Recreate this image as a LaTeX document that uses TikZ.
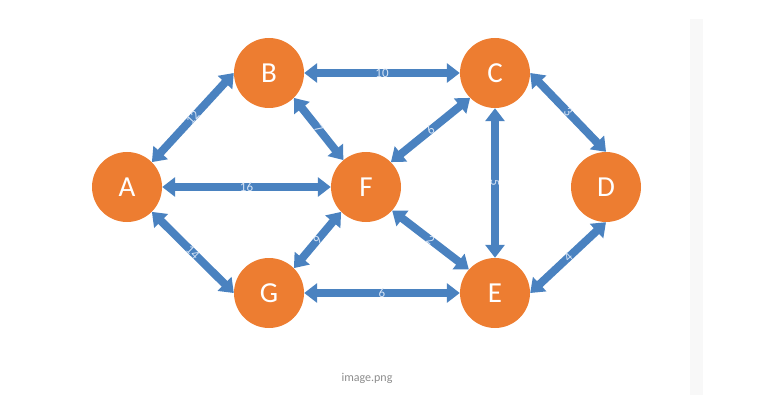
\documentclass[tikz,border=0pt]{standalone}
\usepackage{fontspec}
\setmainfont{Carlito}
\usetikzlibrary{arrows.meta}
\definecolor{nodeorange}{RGB}{237,125,49}
\definecolor{edgeblue}{RGB}{74,130,192}
\definecolor{lbl}{RGB}{215,228,245}
\definecolor{capgray}{RGB}{140,140,140}
\definecolor{strip}{RGB}{248,248,248}
\tikzset{
  vertex/.style={circle, fill=nodeorange, minimum size=70pt, inner sep=0pt,
    text=white, font=\fontsize{29}{29}\selectfont},
  link/.style={draw=edgeblue, line width=8pt,
    {Triangle[width=19pt,length=13pt]}-{Triangle[width=19pt,length=13pt]}},
  wt/.style={midway, sloped, text=lbl, inner sep=0pt, font=\fontsize{13}{13}\selectfont},
}
\begin{document}
\begin{tikzpicture}[x=1pt,y=-1pt]
\useasboundingbox (0,0) rectangle (783,406);
\fill[strip] (690,19) rectangle (703,395);
\node[vertex] (A) at (127,187) {A};
\node[vertex] (B) at (269,73) {B};
\node[vertex] (C) at (495,73) {C};
\node[vertex] (F) at (366,187) {F};
\node[vertex] (D) at (606,187) {D};
\node[vertex] (G) at (269,293) {G};
\node[vertex] (E) at (495,293) {E};
\draw[link] (A.45) -- (B.west) node[wt] {12};
\draw[link] (B.east) -- (C.west) node[wt] {10};
\draw[link] (B.-45) -- (F.130) node[wt] {7};
\draw[link] (A.east) -- (F.west) node[wt] {16};
\draw[link] (F.45) -- (C.225) node[wt] {6};
\draw[link] (C.east) -- (D.north) node[wt] {3};
\draw[link] (C.south) -- (E.north) node[midway, rotate=-90, text=lbl, inner sep=0pt, font=\fontsize{13}{13}\selectfont] {5};
\draw[link] (A.-45) -- (G.west) node[wt] {14};
\draw[link] (G.45) -- (F.225) node[wt] {9};
\draw[link] (F.-42) -- (E.138) node[wt] {2};
\draw[link] (G.east) -- (E.west) node[wt] {6};
\draw[link] (E.east) -- (D.south) node[wt] {4};
\node[text=capgray, font=\fontsize{12}{12}\selectfont] (cap) at (367,378) {image.png};
\end{tikzpicture}
\end{document}
